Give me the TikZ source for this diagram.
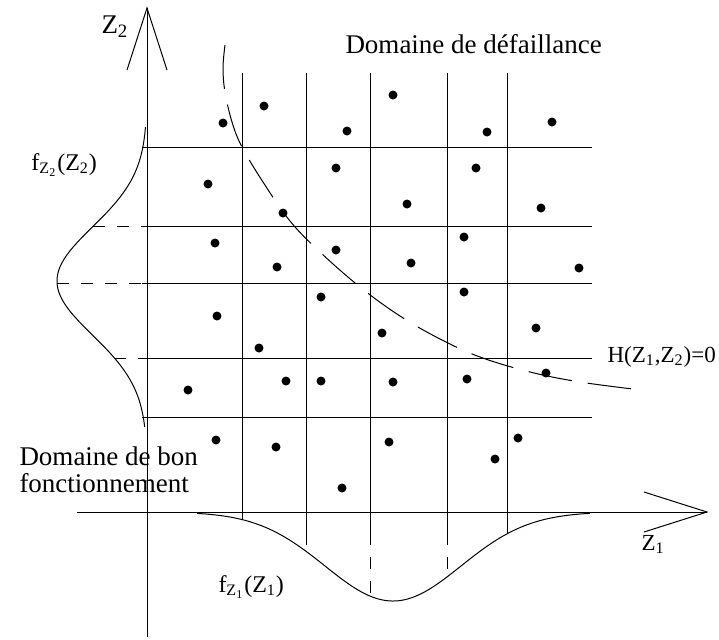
\documentclass[tikz,border=0pt]{standalone}
\usepackage{fontspec}
\setmainfont{Liberation Serif}
\usetikzlibrary{calc}

\begin{document}
\begin{tikzpicture}[x=0.5pt, y=-0.5pt, line width=0.5pt,
  pointille/.style={dash pattern=on 6pt off 6pt},
  frontiere/.style={dash pattern=on 22pt off 8pt},
  point/.style={fill=black},
  etiquette/.style={font=\fontsize{13.5}{13.5}\selectfont, inner sep=0pt, anchor=base west},
  petite/.style={etiquette, font=\fontsize{11.5}{13}\selectfont}]
\useasboundingbox (0,0) rectangle (719,639);
\coordinate (haut) at (147,8);
\coordinate (bas) at (147,637);
\coordinate (gauche) at (77,512);
\coordinate (droite) at (707,512);
\draw (bas) -- (haut);
\draw ($(haut)+(-20,62)$) -- (haut) -- ($(haut)+(20,62)$);
\draw (gauche) -- (droite);
\draw ($(droite)+(-63,-20)$) -- (droite) -- ($(droite)+(-63,20)$);
\foreach \y in {147,226,283,358,417} \draw (142,\y) -- (592,\y);
\foreach \x/\b in {242/520,306/533,370/533,447/533,507/533} \draw (\x,73) -- (\x,\b);
\foreach \x in {306,370,447}
  \draw[pointille] (\x,533) -- (\x,{512+89*exp(-((\x-393)/68)*((\x-393)/68)/2)});
\foreach \y in {226,283,358}
  \draw[pointille] ({147-90*exp(-((\y-281)/54)*((\y-281)/54)/2)},\y) -- (147,\y);
\draw plot[domain=197:590, samples=120] (\x, {512+89*exp(-((\x-393)/68)*((\x-393)/68)/2)});
\draw plot[domain=127:427, samples=120] ({147-90*exp(-((\x-281)/54)*((\x-281)/54)/2)}, \x);
\draw[frontiere] plot[smooth, tension=0.6] coordinates {(225,45) (223,68) (225,92) (232,122) (242,147) (263,182) (290,221) (320,252) (360,287) (400,316) (440,339) (480,357) (530,372) (580,382) (641,390)};
\foreach \p in {(223,123),(264,106),(347,131),(393,95),(487,132),(552,122),
  (208,184),(336,168),(476,168),(283,213),(407,204),(541,208),
  (215,243),(277,267),(336,250),(411,263),(464,237),(579,268),
  (321,297),(464,292),(217,316),(382,333),(536,328),(259,348),(546,373),
  (188,390),(286,381),(321,381),(393,382),(467,379),
  (216,440),(276,447),(389,442),(518,438),(495,459),(342,488)}
  \fill[point] \p circle (2.25pt);
\node[etiquette] (titreZ2) at (101,33) {Z\textsubscript{2}};
\node[etiquette] (defaillance) at (345,53) {Domaine de défaillance};
\node[etiquette, font=\fontsize{12}{13}\selectfont] (fZ2) at (31,170) {f\textsubscript{Z\textsubscript{2}}(Z\textsubscript{2})};
\node[petite] (frontiereH) at (607,362) {H(Z\textsubscript{1},Z\textsubscript{2})=0};
\node[etiquette, anchor=north west, align=left] (bon) at (19,446) {Domaine de bon\\fonctionnement};
\node[petite] (titreZ1) at (641,550) {Z\textsubscript{1}};
\node[etiquette, font=\fontsize{12}{13}\selectfont] (fZ1) at (218,592) {f\textsubscript{Z\textsubscript{1}}(Z\textsubscript{1})};
\end{tikzpicture}
\end{document}
